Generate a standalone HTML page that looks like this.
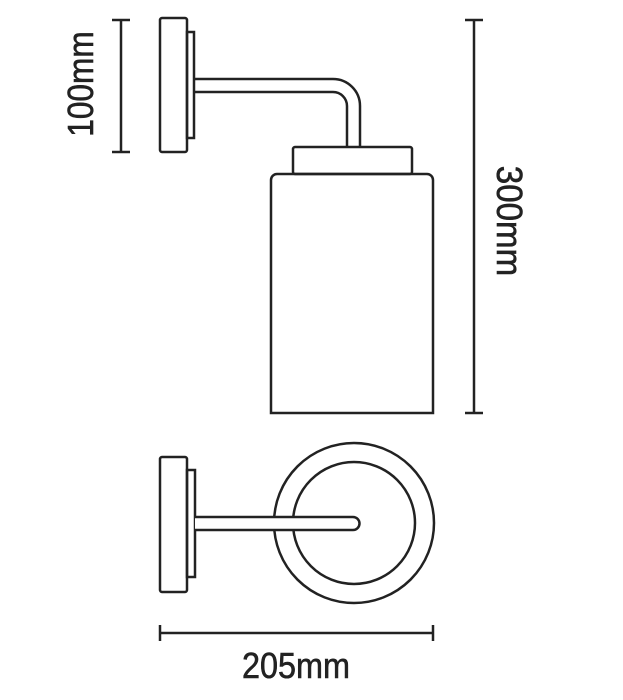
<!DOCTYPE html>
<html><head><style>html,body{margin:0;padding:0;background:#fff}svg{display:block}</style></head>
<body>
<svg width="623" height="700" viewBox="0 0 623 700" xmlns="http://www.w3.org/2000/svg">
<g fill="none" stroke="#222" stroke-width="2.5">
<rect x="160" y="18" width="27" height="134" rx="2"/>
<rect x="187" y="32" width="7" height="106"/>
<path d="M194 79 H333 A27 27 0 0 1 360 106 V147"/>
<path d="M194 92 H333 A14 14 0 0 1 347 106 V147"/>
<rect x="293" y="147" width="119" height="27" rx="2"/>
<path d="M271 413 V180 A6 6 0 0 1 277 174 H427 A6 6 0 0 1 433 180 V413 Z"/>
<rect x="160" y="457" width="27" height="135" rx="2"/>
<rect x="187" y="470" width="8" height="107"/>
<circle cx="354" cy="523" r="80"/>
<circle cx="354" cy="523" r="61"/>
<path d="M195 517 H353 A6.5 6.5 0 0 1 353 530 H195" fill="#fff"/>
<line x1="121" y1="20" x2="121" y2="152"/>
<line x1="112" y1="20" x2="130" y2="20"/>
<line x1="112" y1="152" x2="130" y2="152"/>
<line x1="474" y1="20" x2="474" y2="413"/>
<line x1="465" y1="20" x2="483" y2="20"/>
<line x1="465" y1="413" x2="483" y2="413"/>
<line x1="160" y1="633" x2="433" y2="633"/>
<line x1="160" y1="625" x2="160" y2="641"/>
<line x1="433" y1="625" x2="433" y2="641"/>
</g>
<g fill="#222" stroke="#222" stroke-width="0.6" font-family="'Liberation Sans', sans-serif" font-size="36">
<text transform="translate(93,84) rotate(-90) scale(0.88,1)" text-anchor="middle">100mm</text>
<text transform="translate(497,221) rotate(90) scale(0.92,1)" text-anchor="middle">300mm</text>
<text transform="translate(296,678) scale(0.9,1)" text-anchor="middle">205mm</text>
</g>
</svg>
</body></html>
